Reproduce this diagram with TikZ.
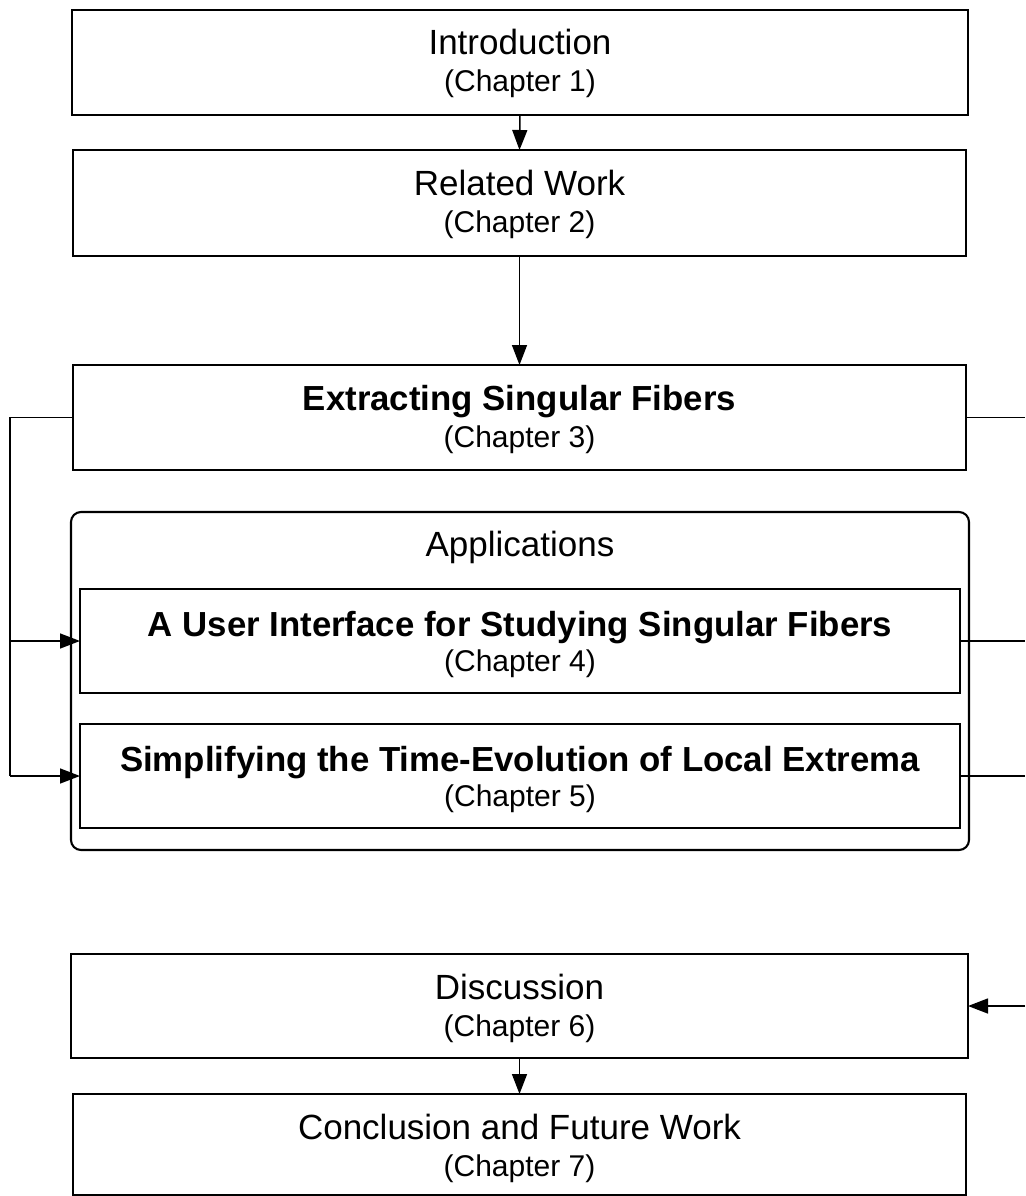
\documentclass[tikz,border=0pt]{standalone}
\usepackage{fontspec}
\setmainfont{Liberation Sans}
\usetikzlibrary{arrows.meta,calc}

\tikzset{
  chapbox/.style={draw, line width=2.1pt, inner sep=0pt, outer sep=0pt, rectangle},
  groupbox/.style={chapbox, rounded corners=10pt},
  titletext/.style={anchor=base, inner sep=0pt, font=\fontsize{35}{41}\selectfont},
  boldtitle/.style={titletext, font=\fontsize{34.8}{41}\selectfont\bfseries},
  subtext/.style={anchor=base, inner sep=0pt, font=\fontsize{30}{36}\selectfont},
  link/.style={line width=1.5pt, -{Triangle[length=20pt,width=15pt]}},
  plain/.style={line width=1.5pt},
}

% box from corner (x1,y1) to (x2,y2), y measured downwards
\newcommand{\chapterbox}[6]{%
  \node[#6, minimum width={(#4-#2)*1pt}, minimum height={(#5-#3)*1pt}]
    (#1) at ({(#2+#4)/2}, {(#3+#5)/2}) {};}

\begin{document}
\begin{tikzpicture}[x=1pt, y=-1pt]
  \useasboundingbox (0,0) rectangle (1025,1196);

  % boxes
  \chapterbox{intro}{72}{10}{968}{115}{chapbox}
  \chapterbox{related}{73}{150}{966}{256}{chapbox}
  \chapterbox{extract}{73}{365}{966}{470}{chapbox}
  \chapterbox{apps}{71}{512}{969}{850}{groupbox}
  \chapterbox{ui}{80}{589}{960}{693}{chapbox}
  \chapterbox{simp}{80}{724}{960}{828}{chapbox}
  \chapterbox{disc}{71}{954}{968}{1058}{chapbox}
  \chapterbox{concl}{73}{1094}{966}{1195}{chapbox}

  % labels
  \node[titletext] (intro-t) at ($(intro.north)+(0,45)$) {Introduction};
  \node[subtext]   (intro-s) at ($(intro.north)+(0,82)$) {(Chapter 1)};
  \node[titletext] (related-t) at ($(related.north)+(0,45)$) {Related Work};
  \node[subtext]   (related-s) at ($(related.north)+(0,82)$) {(Chapter 2)};
  \node[boldtitle] (extract-t) at ($(extract.north)+(0,45)$) {Extracting Singular Fibers};
  \node[subtext]   (extract-s) at ($(extract.north)+(0,82)$) {(Chapter 3)};
  \node[titletext] (apps-t) at ($(apps.north)+(0,44)$) {Applications};
  \node[boldtitle] (ui-t) at ($(ui.north)+(0,47)$) {A User Interface for Studying Singular Fibers};
  \node[subtext]   (ui-s) at ($(ui.north)+(0,82)$) {(Chapter 4)};
  \node[boldtitle] (simp-t) at ($(simp.north)+(0,47)$) {Simplifying the Time-Evolution of Local Extrema};
  \node[subtext]   (simp-s) at ($(simp.north)+(0,82)$) {(Chapter 5)};
  \node[titletext] (disc-t) at ($(disc.north)+(0,45)$) {Discussion};
  \node[subtext]   (disc-s) at ($(disc.north)+(0,82)$) {(Chapter 6)};
  \node[titletext] (concl-t) at ($(concl.north)+(0,45)$) {Conclusion and Future Work};
  \node[subtext]   (concl-s) at ($(concl.north)+(0,82)$) {(Chapter 7)};

  % vertical flow
  \draw[link] (intro.south) -- (related.north);
  \draw[link] (related.south) -- (extract.north);
  \draw[link] (disc.south) -- (concl.north);

  % left feed from chapter 3 into the applications
  \coordinate (lbus) at (10, 0);
  \draw[plain] (extract.west) -- (extract.west -| lbus) -- (simp.west -| lbus);
  \draw[link] (ui.west -| lbus) -- (ui.west);
  \draw[link] (simp.west -| lbus) -- (simp.west);

  % right-hand lines running off the edge into the discussion
  \coordinate (rbus) at (1025, 0);
  \draw[plain] (extract.east) -- (extract.east -| rbus);
  \draw[plain] (ui.east) -- (ui.east -| rbus);
  \draw[plain] (simp.east) -- (simp.east -| rbus);
  \draw[link] (disc.east -| rbus) -- (disc.east);
\end{tikzpicture}
\end{document}
